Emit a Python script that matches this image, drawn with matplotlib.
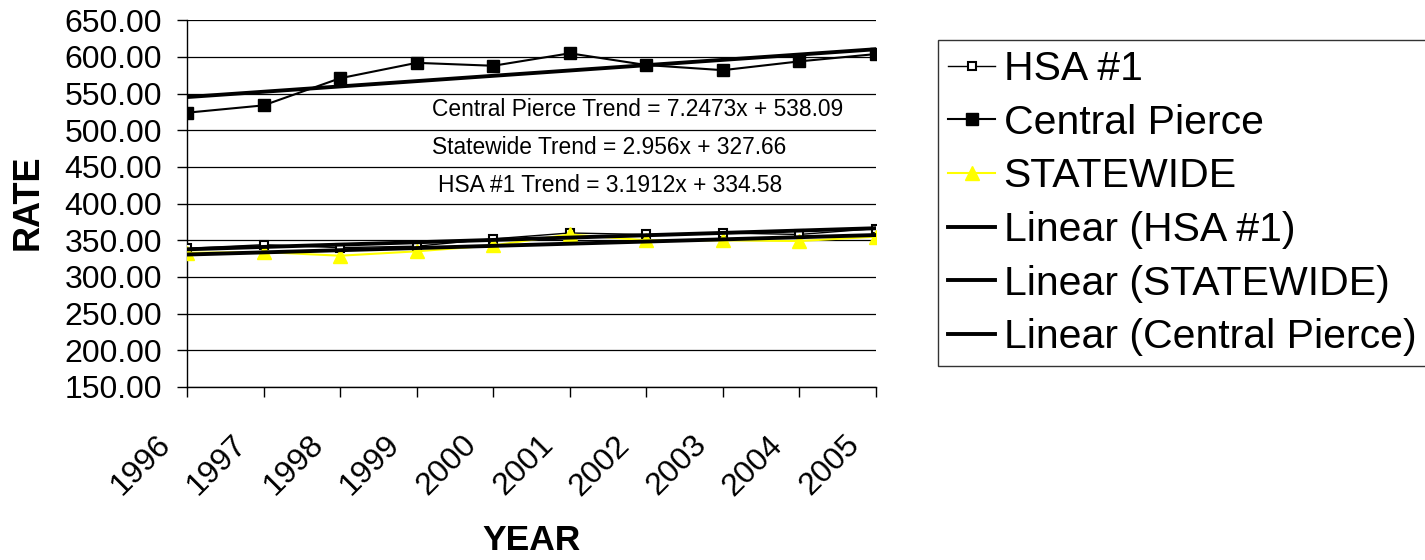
import numpy as np
import matplotlib.pyplot as plt
import matplotlib.transforms as mtransforms
from matplotlib.ticker import FormatStrFormatter

plt.rcParams['font.family'] = ['Liberation Sans', 'DejaVu Sans']

years = [1996, 1997, 1998, 1999, 2000, 2001, 2002, 2003, 2004, 2005]
hsa1 = [339, 344, 340, 342, 352, 360, 358, 360, 358, 366]
central_pierce = [524, 534, 571, 592, 588, 605, 589, 582, 594, 604]
statewide = [333, 334, 329, 335, 343, 358, 350, 350, 349, 355]

# trend coefficients shown on the chart (x = 1..10)
cp_trend = (7.2473, 538.09)
sw_trend = (2.956, 327.66)
hsa_trend = (3.1912, 334.58)

yticks = [150, 200, 250, 300, 350, 400, 450, 500, 550, 600, 650]

W, H = 1425, 560
fig = plt.figure(figsize=(W/100, H/100), dpi=100)
ax = fig.add_axes([187/W, 1 - 387/H, (876 - 187)/W, (387 - 20.3)/H])

x = np.array(years)
xi = np.arange(1, len(years) + 1)

ax.plot(x, hsa1, color='black', lw=1, marker='s', ms=5.5, mfc='white', mec='black', mew=1.5,
        label='HSA #1', zorder=3)
ax.plot(x, central_pierce, color='black', lw=1.5, marker='s', ms=9, mfc='black', mec='black',
        label='Central Pierce', zorder=3)
ax.plot(x, statewide, color='#ffff00', lw=1.5, marker='^', ms=10, mfc='#ffff00', mec='#ffff00',
        label='STATEWIDE', zorder=3)

ax.plot(x, hsa_trend[0]*xi + hsa_trend[1], color='black', lw=2.8, label='Linear (HSA #1)', zorder=4)
ax.plot(x, sw_trend[0]*xi + sw_trend[1], color='black', lw=2.8, label='Linear (STATEWIDE)', zorder=4)
ax.plot(x, cp_trend[0]*xi + cp_trend[1], color='black', lw=2.8, label='Linear (Central Pierce)', zorder=4)

ax.set_xlim(1996, 2005)
ax.set_ylim(150, 650)
ax.set_yticks(yticks)
ax.yaxis.set_major_formatter(FormatStrFormatter('%.2f'))
ax.set_xticks(years)
ax.set_xticklabels([str(y) for y in years], rotation=45, ha='right', va='center',
                   rotation_mode='anchor')
ax.tick_params(axis='both', labelsize=23, direction='out', length=7.5, width=1, color='black')
ax.tick_params(axis='y', pad=10.5)
ax.tick_params(axis='x', pad=31)
shift = mtransforms.ScaledTranslation(-21/100, 0, fig.dpi_scale_trans)
for lab in ax.get_xticklabels():
    lab.set_transform(lab.get_transform() + shift)

ax.grid(axis='y', color='black', lw=0.9)
ax.set_axisbelow(True)
for s in ['top', 'right']:
    ax.spines[s].set_visible(False)
for s in ['left', 'bottom']:
    ax.spines[s].set_linewidth(1)

fig.text(28.5/W, 1 - 202/H, 'RATE', rotation=90, ha='center', va='center',
         fontsize=26, fontweight='bold')
fig.text(532/W, 1 - 541/H, 'YEAR', ha='center', va='center',
         fontsize=25.5, fontweight='bold')

tsize = 16.4
tx = (432 - 187) / 689
ax.text(tx, (387 - 110)/366.7, 'Central Pierce Trend = 7.2473x + 538.09', transform=ax.transAxes,
        ha='left', va='center', fontsize=tsize)
ax.text(tx, (387 - 148)/366.7, 'Statewide Trend = 2.956x + 327.66', transform=ax.transAxes,
        ha='left', va='center', fontsize=tsize)
ax.text(tx + 6/689, (387 - 186)/366.7, 'HSA #1 Trend = 3.1912x + 334.58', transform=ax.transAxes,
        ha='left', va='center', fontsize=tsize)

leg = fig.legend(loc='upper left', bbox_to_anchor=(938/W, 1 - 40/H), fontsize=29.5,
                 frameon=True, fancybox=False, edgecolor='black', handlelength=1.15,
                 handletextpad=0.2, borderpad=0.25, labelspacing=0.38, borderaxespad=0)
leg.get_frame().set_linewidth(1)

fig.savefig('out.png', dpi=100)
